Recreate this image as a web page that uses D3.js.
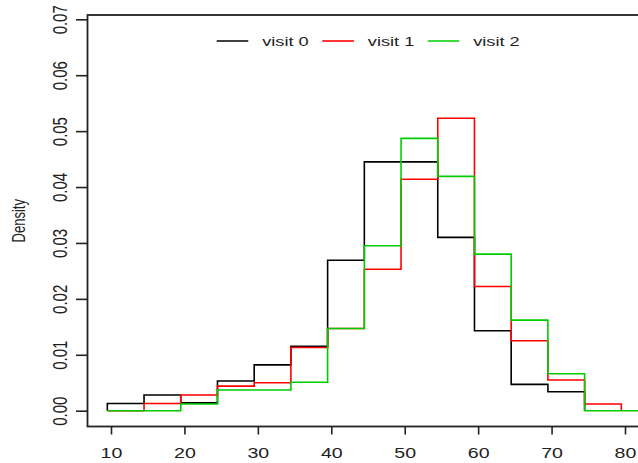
<!DOCTYPE html>
<html>
<head>
<meta charset="utf-8">
<script src="https://cdn.jsdelivr.net/npm/d3@7"></script>
<style>
    body { margin: 0; background: #fff; }
    svg { display: block; }
    text { font-family: "Liberation Sans", Arial, sans-serif; fill: #222; }
</style>
</head>
<body>
<div id="chart"></div>
<script>
(function() {
    "use strict";

    // bin edges start at 9.5, every 5 units
    var binStart = 9.5;
    var binWidth = 5;
    var seriesNames = ["visit 0", "visit 1", "visit 2"];
    var seriesColors = ["#000000", "#ff0000", "#00cd00"];
    var visit0 = [0.0013, 0.0028, 0.0014, 0.0053, 0.0082, 0.0115, 0.0269, 0.0445, 0.0445, 0.0310, 0.0143, 0.0047, 0.0034];
    var visit1 = [0, 0.0013, 0.0028, 0.0044, 0.0050, 0.0113, 0.0147, 0.0253, 0.0414, 0.0523, 0.0222, 0.0125, 0.0055, 0.0012];
    var visit2 = [0, 0, 0.0012, 0.0037, 0.0037, 0.0051, 0.0147, 0.0295, 0.0487, 0.0419, 0.0280, 0.0162, 0.0066, 0, 0];
    var xTicks = [10, 20, 30, 40, 50, 60, 70, 80];
    var yTicks = [0, 0.01, 0.02, 0.03, 0.04, 0.05, 0.06, 0.07];

    var width = 638, height = 463;
    var box = {left: 87.5, top: 15, bottom: 426.5, right: 680};
    var sx = 1.35; // the picture is stretched sideways, text too

    var x = d3.scaleLinear().domain([10, 80]).range([111, 625]);
    var y = d3.scaleLinear().domain([0, 0.07]).range([410.7, 19.3]);

    var svg = d3.select("#chart").append("svg")
        .attr("width", width)
        .attr("height", height);

    svg.append("rect")
        .attr("x", box.left)
        .attr("y", box.top)
        .attr("width", box.right - box.left)
        .attr("height", box.bottom - box.top)
        .attr("fill", "none")
        .attr("stroke", "#222")
        .attr("stroke-width", 1.8);

    // x axis
    var gx = svg.append("g")
        .attr("transform", "translate(0," + box.bottom + ")")
        .call(d3.axisBottom(x).tickValues(xTicks).tickSize(8).tickFormat(d3.format("d")));
    gx.select(".domain").remove();
    gx.selectAll(".tick line").attr("stroke", "#222").attr("stroke-width", 1.6);
    gx.selectAll(".tick text")
        .attr("y", null)
        .attr("dy", "0.35em")
        .attr("font-size", 14.5)
        .attr("text-anchor", "middle")
        .attr("transform", "translate(0,26) scale(" + sx + ",1)");

    // y axis
    var gy = svg.append("g")
        .attr("transform", "translate(" + box.left + ",0)")
        .call(d3.axisLeft(y).tickValues(yTicks).tickSize(11.5).tickFormat(d3.format(".2f")));
    gy.select(".domain").remove();
    gy.selectAll(".tick line").attr("stroke", "#222").attr("stroke-width", 1.6);
    gy.selectAll(".tick text")
        .attr("x", null)
        .attr("dy", "0.35em")
        .attr("font-size", 15)
        .attr("text-anchor", "middle")
        .attr("transform", "translate(-27.5,0) scale(" + sx + ",1) rotate(-90)");

    svg.append("text")
        .attr("transform", "translate(19," + ((box.top + box.bottom) / 2) + ") scale(" + sx + ",1) rotate(-90)")
        .attr("text-anchor", "middle")
        .attr("dy", "0.35em")
        .attr("font-size", 13)
        .text("Density");

    // step outline of each histogram
    function steps(vals) {
        var pts = [[binStart, 0]];
        vals.forEach(function(v, i) { pts.push([binStart + i * binWidth, v]); });
        pts.push([binStart + vals.length * binWidth, 0]);
        return pts;
    }

    var line = d3.line()
        .x(function(d) { return x(d[0]); })
        .y(function(d) { return y(d[1]); })
        .curve(d3.curveStepAfter);

    var clip = svg.append("clipPath").attr("id", "plotclip")
        .append("rect")
        .attr("x", box.left).attr("y", box.top)
        .attr("width", box.right - box.left).attr("height", box.bottom - box.top);

    var plot = svg.append("g").attr("clip-path", "url(#plotclip)");
    [visit0, visit1, visit2].forEach(function(vals, i) {
        plot.append("path")
            .attr("d", line(steps(vals)))
            .attr("fill", "none")
            .attr("stroke", seriesColors[i])
            .attr("stroke-width", 1.6);
    });

    // legend
    var legendX = [216.7, 322.3, 427.7];
    var legend = svg.append("g").attr("transform", "translate(0,41)");
    seriesNames.forEach(function(name, i) {
        legend.append("line")
            .attr("x1", legendX[i]).attr("x2", legendX[i] + 31.6)
            .attr("y1", 0).attr("y2", 0)
            .attr("stroke", seriesColors[i])
            .attr("stroke-width", 1.6);
        legend.append("text")
            .attr("transform", "translate(" + (legendX[i] + 45.5) + ",0) scale(" + sx + ",1)")
            .attr("dy", "0.35em")
            .attr("font-size", 13.5)
            .text(name);
    });
})();
</script>
</body>
</html>
